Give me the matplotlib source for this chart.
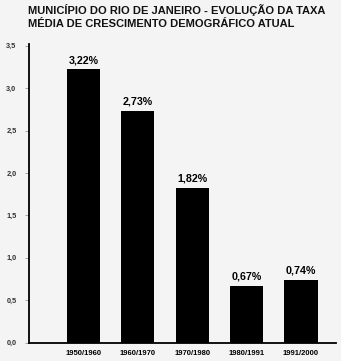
import matplotlib
matplotlib.use("Agg")
import matplotlib.pyplot as plt
from matplotlib import font_manager

# Taxa média de crescimento demográfico do município do Rio de Janeiro
periods = ["1950/1960", "1960/1970", "1970/1980", "1980/1991", "1991/2000"]
rates = [3.22, 2.73, 1.82, 0.67, 0.74]
yticks = [0.0, 0.5, 1.0, 1.5, 2.0, 2.5, 3.0, 3.5]
title_lines = ["MUNICÍPIO DO RIO DE JANEIRO - EVOLUÇÃO DA TAXA",
               "MÉDIA DE CRESCIMENTO DEMOGRÁFICO ATUAL"]

# make sure the regular-width Liberation Sans is used, not the Narrow one
bold_file = [f.fname for f in font_manager.fontManager.ttflist
             if f.name == 'Liberation Sans' and 'Narrow' not in f.fname
             and f.weight == 700 and f.style == 'normal']
if bold_file:
    bold = font_manager.FontProperties(fname=bold_file[0])
else:
    bold = font_manager.FontProperties(family='DejaVu Sans', weight='bold')

bg = '#f4f4f4'
fig = plt.figure(figsize=(3.41, 3.61), dpi=100, facecolor=bg)
ax = fig.add_axes([0.085, 0.051, 0.90, 0.827], facecolor=bg)

x = list(range(len(periods)))
bars = ax.bar(x, rates, width=0.61, color='black')

for xi, r in zip(x, rates):
    ax.text(xi, r + 0.05, f"{r:.2f}%".replace('.', ','), ha='center', va='bottom',
            fontproperties=bold, fontsize=7.7)

ax.set_xlim(-1.0, 4.64)
ax.set_ylim(0, 3.52)
ax.set_yticks(yticks)
ax.set_yticklabels([f"{v:.1f}".replace('.', ',') for v in yticks],
                   fontproperties=bold, fontsize=5.3, color='#333333')
ax.set_xticks(x)
ax.set_xticklabels(periods, fontproperties=bold, fontsize=5.5)
ax.tick_params(axis='x', length=0, pad=5)
ax.tick_params(axis='y', length=3, width=0.6, pad=6, color='#999999')

for side in ['top', 'right']:
    ax.spines[side].set_visible(False)
ax.spines['left'].set_linewidth(1.3)
ax.spines['bottom'].set_linewidth(1.3)

# two-line title, baselines placed separately
for line, yb in zip(title_lines, [0.961, 0.926]):
    fig.text(0.082, yb, line, ha='left', va='baseline', fontproperties=bold,
             fontsize=8.0, color='#111111')

fig.savefig("out.png", dpi=100, facecolor=bg)
